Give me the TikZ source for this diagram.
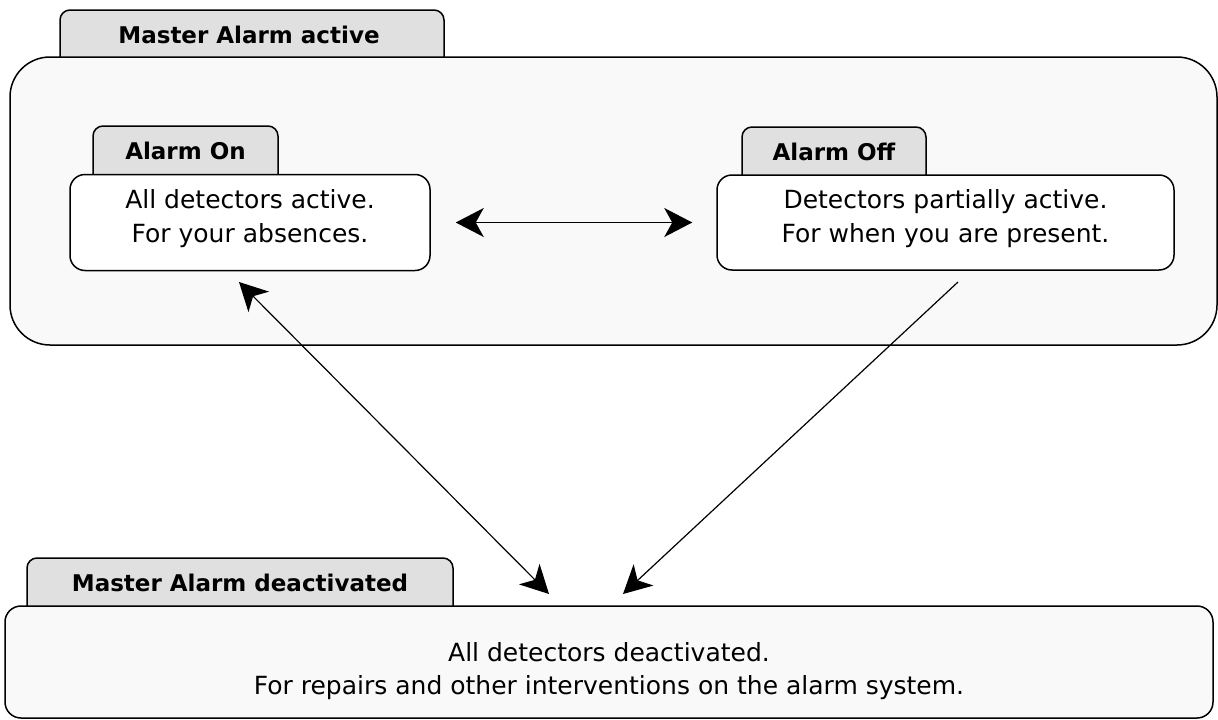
\documentclass[tikz,border=0pt]{standalone}
\usepackage{fontspec}
\setmainfont{DejaVu Sans}
\usetikzlibrary{arrows.meta}
\definecolor{paneback}{HTML}{F9F9F9}
\definecolor{tabgray}{HTML}{E0E0E0}
\tikzset{
  tabshape/.style={draw=black, line width=1.5pt, fill=tabgray, rounded corners=10pt},
  outerbox/.style={draw=black, line width=1.5pt, fill=paneback, rounded corners=40pt, inner sep=0pt},
  lowbox/.style={draw=black, line width=1.5pt, fill=paneback, rounded corners=16pt, inner sep=0pt},
  statebox/.style={draw=black, line width=1.5pt, fill=white, rounded corners=15pt, inner sep=0pt,
    align=center, text depth=13pt, font=\fontsize{25}{33}\selectfont},
  tablabel/.style={inner sep=0pt, font=\fontsize{23}{25}\selectfont\bfseries},
  bodytext/.style={inner sep=0pt, align=center, font=\fontsize{25}{33}\selectfont},
  conn/.style={draw=black, line width=1.2pt},
  bigtip/.tip={Stealth[length=28pt, width=29pt, inset=8pt]},
}
\begin{document}
\begin{tikzpicture}[x=1pt,y=-1pt]
\useasboundingbox[fill=white] (0,0) rectangle (1218,720);
% Master Alarm active
\filldraw[tabshape] (60,70) -- (60,10) -- (444,10) -- (444,70);
\node[outerbox, minimum width=1207pt, minimum height=288pt] (active) at (613.5,201) {};
\node[tablabel] (activelabel) at (249,35) {Master Alarm active};
% Alarm On
\filldraw[tabshape] (93,185) -- (93,126) -- (278,126) -- (278,185);
\node[statebox, minimum width=360pt, minimum height=96pt] (onbox) at (250,222.5)
  {All detectors active.\\For your absences.};
\node[tablabel] (onlabel) at (185.5,151) {Alarm On};
% Alarm Off
\filldraw[tabshape] (742,185) -- (742,127) -- (926,127) -- (926,185);
\node[statebox, minimum width=457pt, minimum height=95pt] (offbox) at (945.5,222.5)
  {Detectors partially active.\\For when you are present.};
\node[tablabel] (offlabel) at (834,152) {Alarm Off};
% Master Alarm deactivated
\filldraw[tabshape] (27,620) -- (27,558) -- (453,558) -- (453,620);
\node[lowbox, minimum width=1208pt, minimum height=112pt] (deact) at (609,662) {};
\node[tablabel] (deactlabel) at (240,583) {Master Alarm deactivated};
\node[bodytext] (deacttext) at (609,671)
  {All detectors deactivated.\\For repairs and other interventions on the alarm system.};
% connectors
\coordinate (onend) at (239,282);
\coordinate (offend) at (958,282);
\coordinate (deactA) at (549,594);
\coordinate (deactB) at (623,594);
\draw[conn, bigtip-bigtip, shorten <=25pt, shorten >=24pt] (onbox.east) -- (offbox.west);
\draw[conn, bigtip-bigtip] (onend) -- (deactA);
\draw[conn, -bigtip] (offend) -- (deactB);
\end{tikzpicture}
\end{document}
